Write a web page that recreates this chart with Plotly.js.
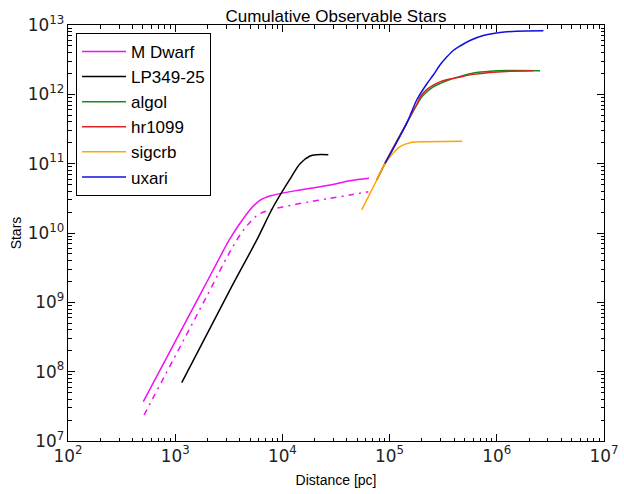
<!DOCTYPE html>
<html>
<head>
<meta charset="utf-8">
<script src="https://cdn.plot.ly/plotly-3.0.1.min.js"></script>
<style>html,body{margin:0;padding:0;background:#fff;}#chart{width:624px;height:494px;}</style>
</head>
<body>
<div id="chart"></div>
<script>
// ---- data (distance in pc, cumulative stars) ----
var seriesNames = ["M Dwarf", "LP349-25", "algol", "hr1099", "sigcrb", "uxari"];

var mdwarfX = [504, 1778, 2818, 3162, 3981, 5012, 5623, 6310, 7079, 7943, 10000, 14600, 27800, 42700, 64300];
var mdwarfY = [3.69e7, 1.45e9, 5.6e9, 7.76e9, 1.35e10, 2.19e10, 2.63e10, 3.02e10, 3.27e10, 3.47e10, 3.76e10, 4.17e10, 4.92e10, 5.68e10, 6.15e10];

var mdwarfAltX = [512, 2036, 3162, 3981, 4467, 5012, 5623, 6310, 7079, 7943, 10000, 18100, 27800, 42700, 63300];
var mdwarfAltY = [2.37e7, 1.35e9, 5.01e9, 9.12e9, 1.175e10, 1.445e10, 1.72e10, 1.93e10, 2.07e10, 2.19e10, 2.37e10, 2.83e10, 3.16e10, 3.53e10, 3.94e10];

var lpX = [1151, 3243, 5755, 8225, 11780, 14600, 18100, 20900, 26800];
var lpY = [6.93e7, 1.51e9, 7.9e9, 2.39e10, 6.0e10, 1.0e11, 1.29e11, 1.35e11, 1.35e11];

var algolX = [75860, 90600, 144500, 155000, 179000, 196000, 222000, 255700, 295000, 366000, 454000, 604000, 865000, 1.24e6, 2.53e6];
var algolY = [5.81e10, 1.01e11, 3.85e11, 4.71e11, 7.02e11, 8.85e11, 1.08e12, 1.28e12, 1.43e12, 1.64e12, 1.81e12, 2.03e12, 2.16e12, 2.20e12, 2.19e12];

var hrX = [75860, 90600, 144500, 155000, 179000, 196000, 222000, 255700, 295000, 366000, 454000, 604000, 865000, 1.24e6, 2.19e6];
var hrY = [5.81e10, 1.01e11, 3.85e11, 4.71e11, 7.13e11, 9.46e11, 1.17e12, 1.36e12, 1.51e12, 1.66e12, 1.78e12, 1.94e12, 2.07e12, 2.14e12, 2.19e12];

var sigcrbX = [54950, 75860, 87300, 100900, 125000, 155000, 222000, 476000];
var sigcrbY = [2.15e10, 5.81e10, 9.04e10, 1.26e11, 1.76e11, 2.01e11, 2.07e11, 2.10e11];

var uxariX = [90600, 144500, 179000, 222000, 255700, 295000, 341000, 393000, 454000, 562000, 748000, 1.07e6, 1.53e6, 2.72e6];
var uxariY = [1.01e11, 3.85e11, 8.28e11, 1.41e12, 1.90e12, 2.65e12, 3.45e12, 4.29e12, 4.98e12, 5.98e12, 7.06e12, 7.80e12, 8.14e12, 8.28e12];

var colors = ["#f010f0", "#000000", "#1a8a1a", "#e02020", "#ffa500", "#1010e0"];

// minor tick positions (2..9 x each decade)
function minorTicks(lo, hi) {
  var v = [];
  for (var e = lo; e < hi; e++) for (var m = 2; m <= 9; m++) v.push(m * Math.pow(10, e));
  return v;
}

function tr(x, y, name, color, extra) {
  var t = {x: x, y: y, name: name, type: "scatter", mode: "lines",
           line: {color: color, width: 1.5, shape: "spline", smoothing: 0.9}};
  for (var k in (extra || {})) t[k] = extra[k];
  return t;
}

var data = [
  tr(mdwarfX, mdwarfY, seriesNames[0], colors[0]),
  tr(mdwarfAltX, mdwarfAltY, seriesNames[0] + " (alt)", colors[0],
     {showlegend: false, line: {color: colors[0], width: 1.5, dash: "6px,5px,2px,5px", shape: "spline", smoothing: 0.9}}),
  tr(lpX, lpY, seriesNames[1], colors[1]),
  tr(algolX, algolY, seriesNames[2], colors[2]),
  tr(hrX, hrY, seriesNames[3], colors[3]),
  tr(sigcrbX, sigcrbY, seriesNames[4], colors[4]),
  tr(uxariX, uxariY, seriesNames[5], colors[5]),
  // transparent copy on the overlay axes so the minor-tick axes get drawn
  {x: lpX, y: lpY, xaxis: "x2", yaxis: "y2", type: "scatter", mode: "lines",
   line: {color: "rgba(0,0,0,0)"}, showlegend: false, hoverinfo: "skip"}
];

var tickFont = {family: "DejaVu Sans", size: 13.5, color: "#222"};
function majorAxis(lo, hi) {
  return {
    type: "log", dtick: 1, exponentformat: "power", range: [lo, hi],
    showgrid: false, zeroline: false,
    showline: true, linecolor: "#000", linewidth: 1, mirror: "ticks",
    ticks: "inside", ticklen: 7, tickwidth: 1, tickcolor: "#000",
    tickfont: tickFont
  };
}
function minorAxis(lo, hi, overlay, anchor) {
  return {
    type: "log", range: [lo, hi], overlaying: overlay, anchor: anchor,
    tickmode: "array", tickvals: minorTicks(lo, hi), showticklabels: false,
    ticks: "inside", ticklen: 3.5, tickwidth: 1, tickcolor: "#000",
    mirror: "ticks", showline: false, showgrid: false, zeroline: false
  };
}

var layout = {
  width: 624, height: 494,
  margin: {l: 68, r: 20, t: 25, b: 53},
  paper_bgcolor: "#fff", plot_bgcolor: "#fff",
  font: {family: "Liberation Sans, Arial, sans-serif", color: "#000"},
  title: {text: "Cumulative Observable Stars", font: {size: 17, color: "#000"},
          xref: "paper", x: 0.5, xanchor: "center", yref: "container", y: 0.968, yanchor: "middle"},
  xaxis: Object.assign(majorAxis(2, 7), {
          title: {text: "Distance [pc]", font: {size: 14}, standoff: 10}}),
  yaxis: Object.assign(majorAxis(7, 13), {
          title: {text: "Stars", font: {size: 14}, standoff: 2}}),
  xaxis2: minorAxis(2, 7, "x", "y2"),
  yaxis2: minorAxis(7, 13, "y", "x2"),
  legend: {x: 0.015, y: 0.981, xanchor: "left", yanchor: "top",
           bordercolor: "#000", borderwidth: 1, bgcolor: "#fff", itemwidth: 44,
           font: {size: 17, color: "#000"}},
  showlegend: true
};

Plotly.newPlot("chart", data, layout, {displayModeBar: false, staticPlot: true});
</script>
</body>
</html>
